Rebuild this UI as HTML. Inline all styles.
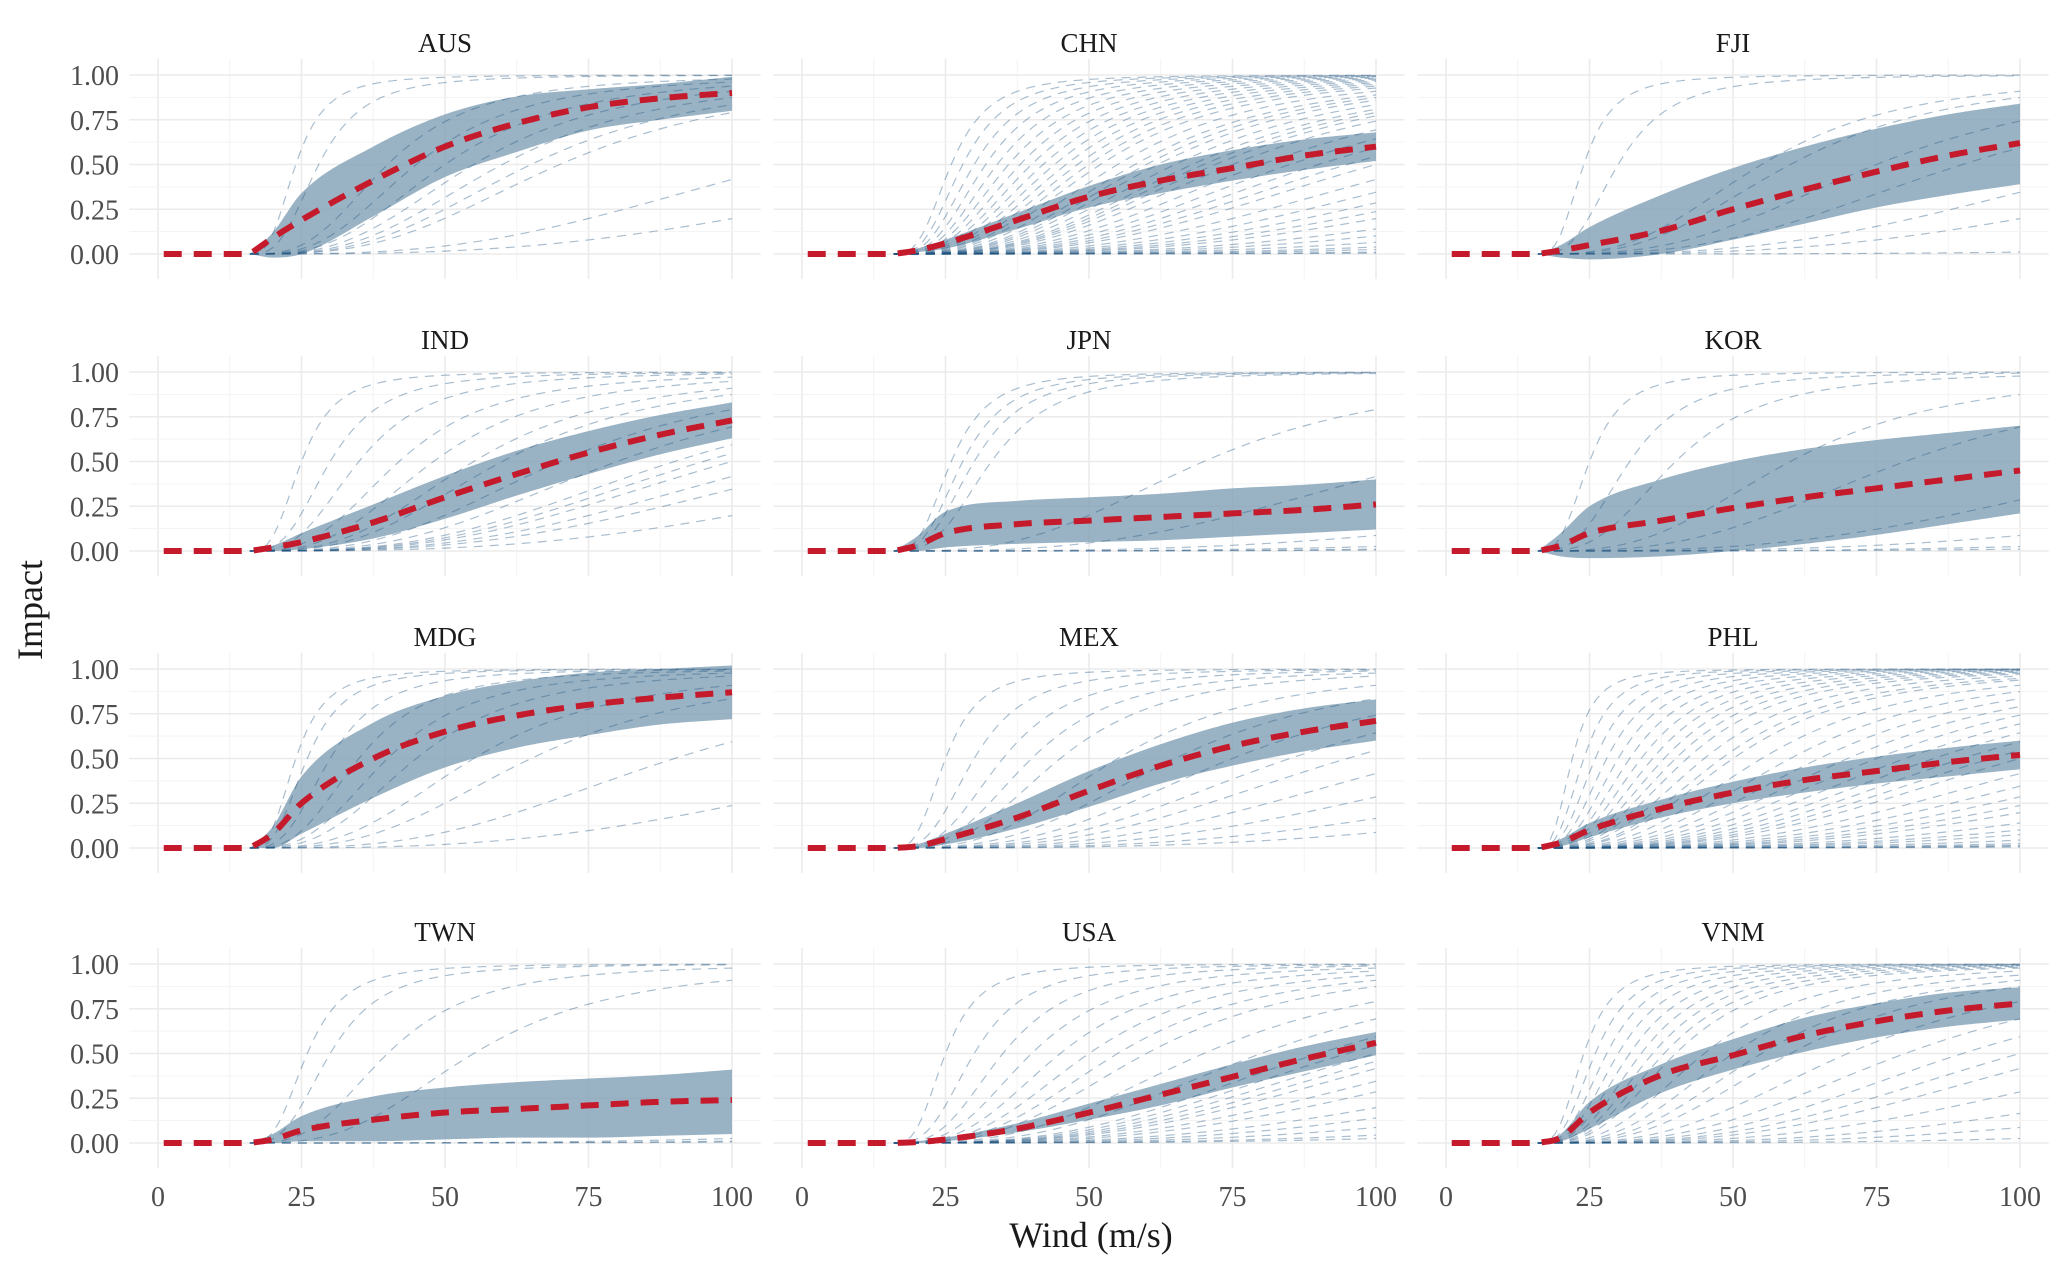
<!DOCTYPE html>
<html><head><meta charset="utf-8"><style>
html,body{margin:0;padding:0;background:#fff;}
svg{display:block;font-family:"Liberation Serif",serif;}
</style></head><body>
<svg id="chart" width="2067" height="1275" viewBox="0 0 2067 1275"></svg>
<script>
const countries = ["AUS","CHN","FJI","IND","JPN","KOR","MDG","MEX","PHL","TWN","USA","VNM"];
const windPts = [16,20,25,37.5,50,62.5,75,87.5,100];
const meanVals = {
AUS:[0,0.09,0.19,0.41,0.60,0.73,0.82,0.87,0.90],
CHN:[0,0.02,0.06,0.19,0.32,0.41,0.48,0.55,0.60],
FJI:[0,0.02,0.05,0.13,0.25,0.36,0.46,0.55,0.62],
IND:[0,0.02,0.05,0.16,0.30,0.43,0.55,0.65,0.73],
JPN:[0,0.03,0.10,0.15,0.17,0.19,0.21,0.23,0.26],
KOR:[0,0.03,0.10,0.17,0.24,0.30,0.35,0.40,0.45],
MDG:[0,0.08,0.25,0.50,0.65,0.74,0.80,0.84,0.87],
MEX:[0,0.01,0.05,0.17,0.32,0.46,0.57,0.65,0.71],
PHL:[0,0.03,0.10,0.22,0.31,0.38,0.43,0.48,0.52],
TWN:[0,0.02,0.07,0.13,0.17,0.19,0.21,0.23,0.24],
USA:[0,0.005,0.02,0.08,0.17,0.27,0.37,0.47,0.56],
VNM:[0,0.03,0.17,0.38,0.49,0.60,0.68,0.74,0.78]};
const upperVals = {
AUS:[0,0.12,0.34,0.60,0.78,0.88,0.92,0.95,0.99],
CHN:[0,0.03,0.08,0.23,0.38,0.50,0.58,0.64,0.68],
FJI:[0,0.05,0.15,0.33,0.48,0.60,0.70,0.78,0.84],
IND:[0,0.03,0.10,0.26,0.42,0.56,0.67,0.76,0.83],
JPN:[0,0.08,0.22,0.28,0.30,0.32,0.35,0.37,0.40],
KOR:[0,0.10,0.25,0.40,0.50,0.57,0.62,0.66,0.70],
MDG:[0,0.12,0.40,0.70,0.85,0.93,0.98,1.00,1.02],
MEX:[0,0.02,0.08,0.25,0.43,0.58,0.70,0.78,0.83],
PHL:[0,0.05,0.14,0.27,0.37,0.45,0.51,0.56,0.60],
TWN:[0,0.05,0.15,0.26,0.31,0.34,0.36,0.38,0.41],
USA:[0,0.01,0.03,0.11,0.22,0.33,0.44,0.54,0.62],
VNM:[0,0.05,0.23,0.44,0.58,0.70,0.78,0.84,0.87]};
const lowerVals = {
AUS:[0,-0.02,0.0,0.21,0.43,0.57,0.69,0.75,0.80],
CHN:[0,0.01,0.03,0.14,0.26,0.34,0.41,0.47,0.52],
FJI:[0,-0.02,-0.03,0.0,0.08,0.17,0.26,0.33,0.39],
IND:[0,0.0,0.01,0.07,0.18,0.31,0.43,0.54,0.63],
JPN:[0,0.0,0.02,0.04,0.05,0.06,0.08,0.10,0.12],
KOR:[0,-0.03,-0.04,-0.03,0.0,0.04,0.09,0.15,0.21],
MDG:[0,0.0,0.08,0.28,0.45,0.56,0.63,0.69,0.72],
MEX:[0,0.0,0.02,0.11,0.23,0.36,0.46,0.54,0.60],
PHL:[0,0.01,0.06,0.17,0.25,0.31,0.36,0.40,0.44],
TWN:[0,0.0,0.01,0.01,0.02,0.03,0.03,0.04,0.05],
USA:[0,0.0,0.01,0.06,0.13,0.21,0.31,0.40,0.49],
VNM:[0,0.01,0.08,0.28,0.41,0.51,0.59,0.65,0.69]};
const curveVhalf = {
AUS:[24,28,40,45,50,55,60,65,70,110,150],
CHN:[26,28,30,32,34,36,38,40,42,44,46,48,50,52,55,58,60,62,65,68,70,72,75,80,85,90,95,100,110,120,130,140,150,170,190,220,260,300,400,500],
FJI:[24,30,55,60,75,90,120,150,400],
IND:[25,30,35,42,48,55,60,70,80,90,95,100,110,120,150],
JPN:[26,28,30,33,70,110,200,300,400,500],
KOR:[25,32,40,60,80,130,200,300,400],
MDG:[24,26,30,35,40,45,55,65,90,140],
MEX:[25,30,35,40,45,55,65,75,85,95,110,130,160,200],
PHL:[22,24,26,28,30,32,34,36,38,40,42,45,48,50,55,60,65,70,75,80,85,90,95,100,110,120,130,140,150,170,190,210,250,300,350,400,500],
TWN:[26,30,40,55,300,400,500],
USA:[25,30,35,40,45,50,55,60,70,80,90,95,100,105,110,120,130,150,170,200,250,300],
VNM:[24,26,28,30,32,34,36,38,40,45,50,55,60,70,80,90,100,110,130,160,200,300]};
const xTicks = [0,25,50,75,100];
const yTicks = [0,0.25,0.5,0.75,1];
const yTickLabels = ["0.00","0.25","0.50","0.75","1.00"];
const vThresh = 16;

const NS="http://www.w3.org/2000/svg";
const svg=document.getElementById('chart');
const colX0=[158,802,1446], rowY0=[254,551,848,1143];
const XS=5.74, YS=179;
function mk(tag,attrs,parent){const e=document.createElementNS(NS,tag);for(const k in attrs)e.setAttribute(k,attrs[k]);(parent||svg).appendChild(e);return e;}
function interp(xs,ys,x){
  const n=xs.length;
  if(x<=xs[0])return ys[0];
  if(x>=xs[n-1])return ys[n-1];
  const d=[],m=[];
  for(let i=0;i<n-1;i++)d.push((ys[i+1]-ys[i])/(xs[i+1]-xs[i]));
  m[0]=d[0];m[n-1]=d[n-2];
  for(let i=1;i<n-1;i++){m[i]=(d[i-1]*d[i]<=0)?0:(d[i-1]+d[i])/2;}
  for(let i=0;i<n-1;i++){if(d[i]===0){m[i]=0;m[i+1]=0;continue;}
    const a=m[i]/d[i],b=m[i+1]/d[i],s=a*a+b*b;if(s>9){const t=3/Math.sqrt(s);m[i]=t*a*d[i];m[i+1]=t*b*d[i];}}
  let i=0;while(x>xs[i+1])i++;
  const h=xs[i+1]-xs[i],t=(x-xs[i])/h,t2=t*t,t3=t2*t;
  return (2*t3-3*t2+1)*ys[i]+(t3-2*t2+t)*h*m[i]+(-2*t3+3*t2)*ys[i+1]+(t3-t2)*h*m[i+1];
}
countries.forEach((c,idx)=>{
  const col=idx%3,row=Math.floor(idx/3);
  const x0=colX0[col],y0=rowY0[row];
  const X=w=>x0+w*XS, Y=v=>y0-v*YS;
  const g=mk('g',{});
  
  
  for(let w=0;w<=100;w+=12.5){const major=(w%25===0);
    mk('line',{x1:X(w),x2:X(w),y1:Y(1.09),y2:Y(-0.14),stroke:major?'#ebebeb':'#f3f3f3','stroke-width':major?1.6:1},g);}
  for(let v=0;v<=1.001;v+=0.125){const major=(Math.round(v*8)%2===0);
    mk('line',{x1:X(-5),x2:X(105),y1:Y(v),y2:Y(v),stroke:major?'#ebebeb':'#f3f3f3','stroke-width':major?1.6:1},g);}
  let up=[],lo=[];
  for(let w=vThresh;w<=100;w+=0.5){up.push(X(w)+','+Y(interp(windPts,upperVals[c],w)));lo.push(X(w)+','+Y(interp(windPts,lowerVals[c],w)));}
  const rib=mk('polygon',{points:up.concat(lo.reverse()).join(' '),fill:'#7d9db3','fill-opacity':0.78},g);
  
  
  curveVhalf[c].forEach((vh,k)=>{
    let pts=[];
    for(let w=vThresh;w<=100;w+=1){const v=Math.max(0,w-vThresh)/(vh-vThresh);const f=v*v*v/(1+v*v*v);pts.push(X(w)+','+Y(f));}
    const pl=mk('polyline',{points:pts.join(' '),fill:'none',stroke:'#1f5580','stroke-opacity':0.38,'stroke-width':1.2,'stroke-dasharray':'9 7'},g);
    
    
  });
  let mp=[X(1)+','+Y(0)];
  for(let w=vThresh;w<=100;w+=0.5)mp.push(X(w)+','+Y(interp(windPts,meanVals[c],w)));
  const ml=mk('polyline',{points:mp.join(' '),fill:'none',stroke:'#c41a2c','stroke-width':6,'stroke-dasharray':'18 12'},g);
  
  
  const t=mk('text',{x:X(50),y:Y(0)-202,'text-anchor':'middle','font-size':27,fill:'#1a1a1a'},g);
  t.textContent=c;
  
  
  if(col===0){yTicks.forEach((v,i)=>{const tl=mk('text',{x:119,y:Y(v)+10,'text-anchor':'end','font-size':28,fill:'#4d4d4d'},g);tl.textContent=yTickLabels[i];
    
    });}
  if(row===3){xTicks.forEach(w=>{const tl=mk('text',{x:X(w),y:1206,'text-anchor':'middle','font-size':28,fill:'#4d4d4d'},g);tl.textContent=w;
    
    });}
});
const xt=mk('text',{x:1091,y:1247,'text-anchor':'middle','font-size':36,fill:'#1a1a1a'});
xt.textContent='Wind (m/s)';


const yt=mk('text',{x:0,y:0,'text-anchor':'middle','font-size':36,fill:'#1a1a1a',transform:'translate(42,610) rotate(-90)'});
yt.textContent='Impact';


</script>
</body></html>
